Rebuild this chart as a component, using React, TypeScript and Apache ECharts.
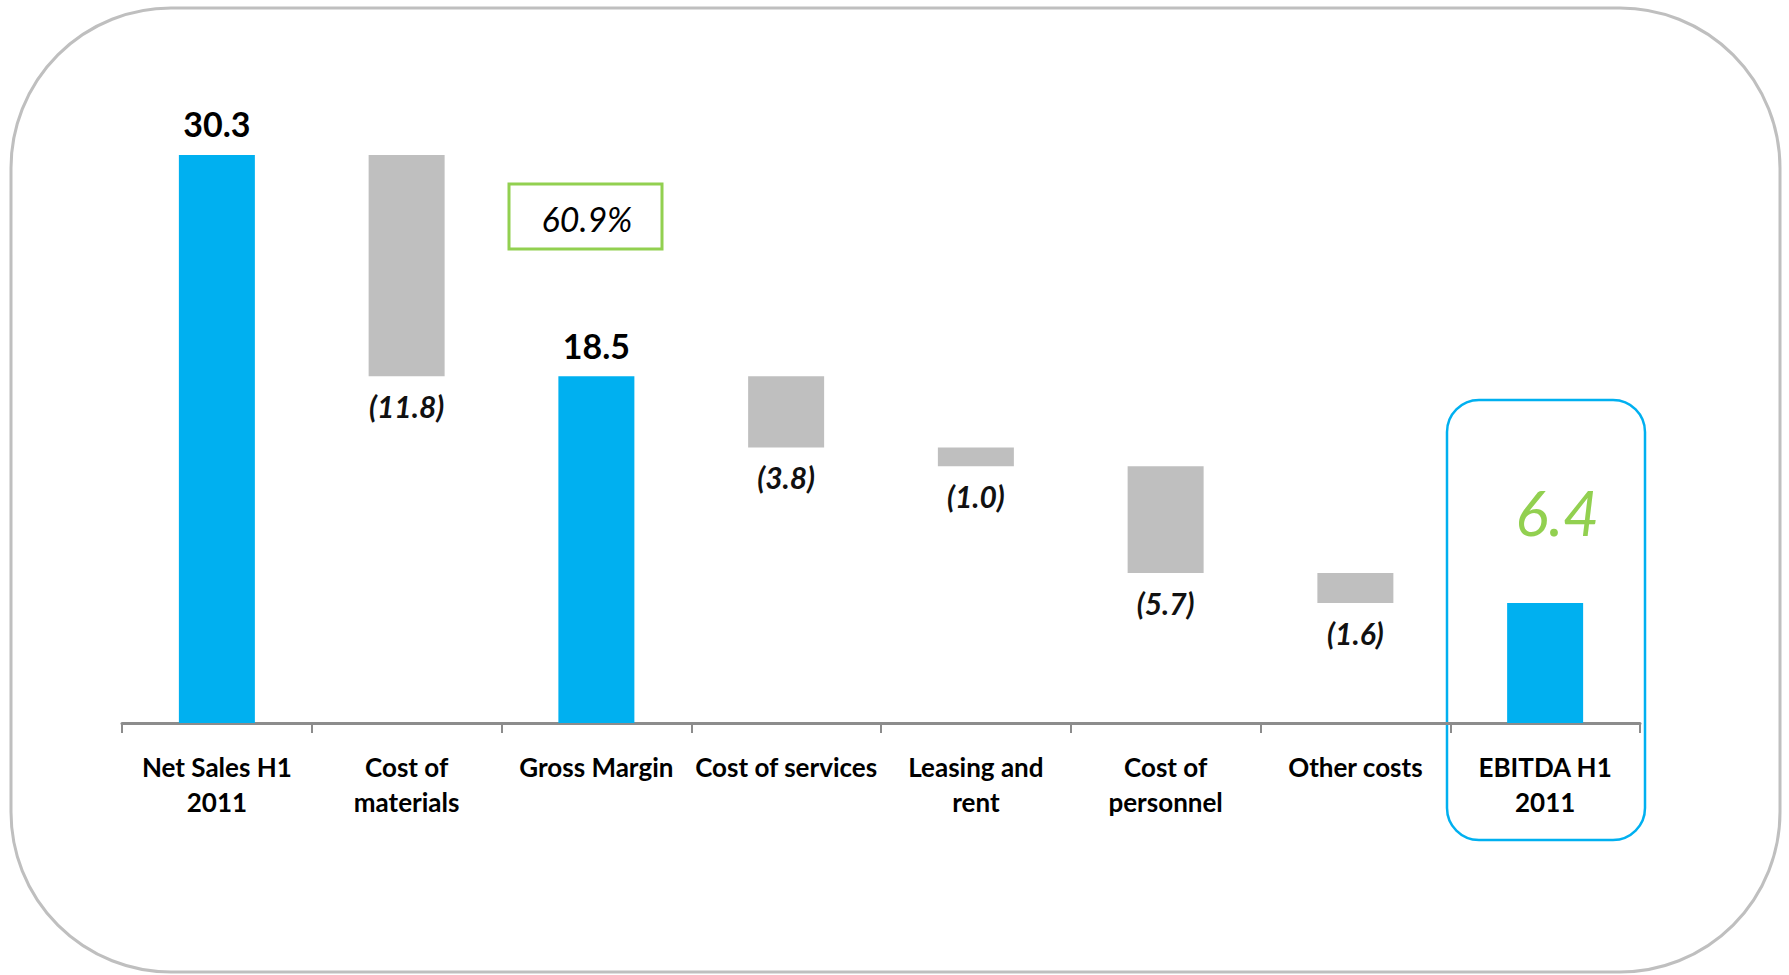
import React, { useEffect, useRef } from "react";
import * as echarts from "echarts";

const categories = [
  "Net Sales H1\n2011",
  "Cost of\nmaterials",
  "Gross Margin",
  "Cost of services",
  "Leasing and\nrent",
  "Cost of\npersonnel",
  "Other costs",
  "EBITDA H1\n2011",
];
const values = [30.3, -11.8, 18.5, -3.8, -1.0, -5.7, -1.6, 6.4];
const isTotal = [true, false, true, false, false, false, false, true];
const highlighted = [false, false, false, false, false, false, false, true];
const grossMarginPct = "60.9%";

const BLUE = "#00b0f0";
const GRAY = "#bfbfbf";
const GREEN = "#92d050";
const FONT = "Lato, 'Open Sans', sans-serif";

export default function App() {
  const ref = useRef<HTMLDivElement>(null);

  useEffect(() => {
    if (!ref.current) return;
    const chart = echarts.init(ref.current, undefined, { renderer: "svg" });

    const base: (number | string)[] = [];
    const totals: any[] = [];
    const deltas: any[] = [];
    let running = 0;
    values.forEach((v, i) => {
      if (isTotal[i]) {
        base.push(0);
        running = v;
        if (highlighted[i]) {
          totals.push({
            value: v,
            label: {
              show: true,
              position: "top",
              distance: 60,
              offset: [12, 0],
              color: GREEN,
              fontSize: 62,
              fontStyle: "italic",
              fontWeight: "normal",
              fontFamily: FONT,
            },
          });
        } else {
          totals.push(v);
        }
        deltas.push("-");
      } else {
        const bottom = running + v;
        base.push(bottom);
        totals.push("-");
        deltas.push(-v);
        running = bottom;
      }
    });

    chart.setOption({
      animation: false,
      grid: { left: 122, right: 149, top: 123, bottom: 252 },
      xAxis: {
        type: "category",
        data: categories,
        boundaryGap: true,
        axisLine: { show: true, lineStyle: { color: "#8c8c8c", width: 3 } },
        axisTick: {
          show: true,
          length: 10,
          interval: 0,
          lineStyle: { color: "#8c8c8c", width: 2 },
        },
        axisLabel: {
          interval: 0,
          margin: 26,
          color: "#000",
          fontSize: 26,
          lineHeight: 35,
          fontFamily: FONT,
          fontWeight: "bold",
        },
      },
      yAxis: {
        type: "value",
        min: 0,
        max: 32,
        show: false,
        splitLine: { show: false },
      },
      series: [
        {
          name: "base",
          type: "bar",
          stack: "w",
          barWidth: 76,
          itemStyle: { color: "transparent" },
          silent: true,
          data: base,
        },
        {
          name: "totals",
          type: "bar",
          stack: "w",
          barWidth: 76,
          itemStyle: { color: BLUE },
          label: {
            show: true,
            position: "top",
            distance: 14,
            color: "#000",
            fontSize: 34,
            fontWeight: "bold",
            fontFamily: FONT,
            formatter: (p: any) => Number(p.value).toFixed(1),
          },
          data: totals,
        },
        {
          name: "deltas",
          type: "bar",
          stack: "w",
          barWidth: 76,
          itemStyle: { color: GRAY },
          label: {
            show: true,
            position: "bottom",
            distance: 15,
            color: "#111",
            fontSize: 30,
            fontWeight: "bold",
            fontStyle: "italic",
            fontFamily: FONT,
            formatter: (p: any) => `(${Math.abs(Number(p.value)).toFixed(1)})`,
          },
          data: deltas,
        },
      ],
      graphic: [
        {
          type: "rect",
          shape: { x: 11, y: 8, width: 1769, height: 964, r: 160 },
          style: { fill: "none", stroke: "#bfbfbf", lineWidth: 3 },
          silent: true,
        },
        {
          type: "rect",
          shape: { x: 509, y: 184, width: 153, height: 65 },
          style: { fill: "#fff", stroke: GREEN, lineWidth: 3 },
          silent: true,
        },
        {
          type: "text",
          x: 587,
          y: 218,
          style: {
            text: grossMarginPct,
            fill: "#000",
            font: `italic normal 34px ${FONT}`,
            align: "center",
            verticalAlign: "middle",
          },
          silent: true,
        },
        {
          type: "rect",
          shape: { x: 1447, y: 400, width: 198, height: 440, r: 32 },
          style: { fill: "none", stroke: BLUE, lineWidth: 2.5 },
          silent: true,
        },
      ],
    });

    return () => chart.dispose();
  }, []);

  return (
    <div
      ref={ref}
      style={{ position: "fixed", left: 0, top: 0, width: 1789, height: 975, background: "#fff" }}
    />
  );
}
